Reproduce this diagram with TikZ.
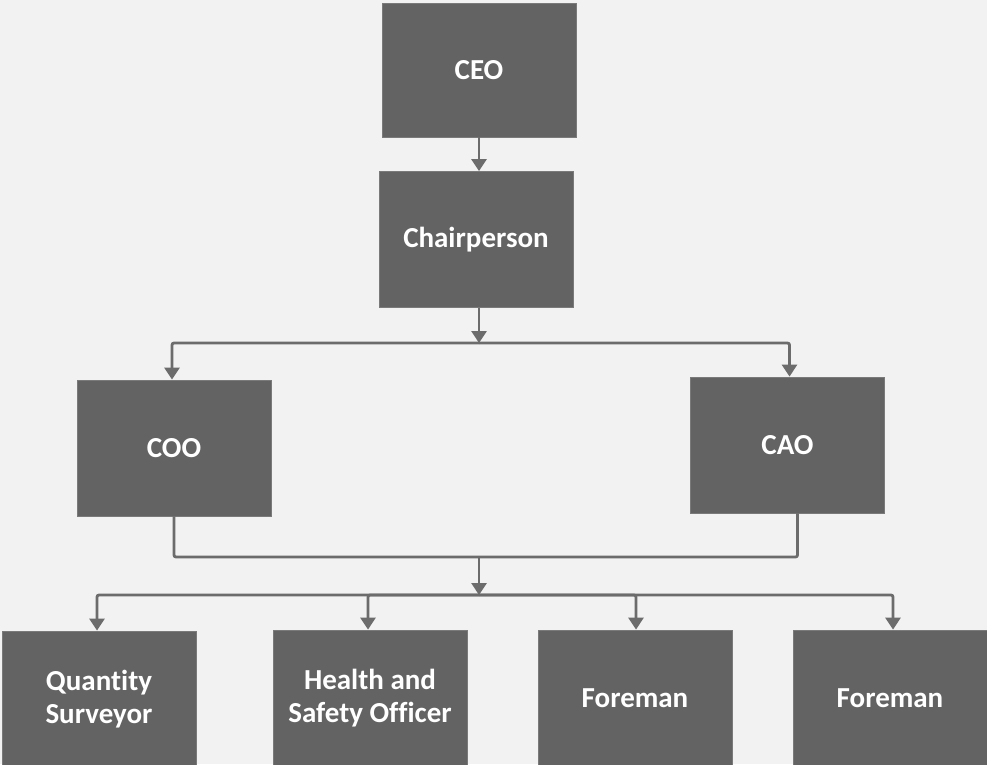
\documentclass[tikz,border=0pt]{standalone}
\usepackage{fontspec}
\setmainfont{Carlito}[Ligatures=NoCommon]
\usetikzlibrary{arrows.meta}
\definecolor{boxgray}{RGB}{99,99,99}
\definecolor{linegray}{RGB}{108,108,108}
\definecolor{bggray}{RGB}{242,242,242}

\begin{document}
\begin{tikzpicture}[x=1pt,y=-1pt,
    post/.style={fill=boxgray, draw=boxgray!85!white, line width=0.8pt,
      minimum width=194pt, minimum height=136pt, inner sep=0pt,
      text=white, align=center,
      font=\bfseries\fontsize{29}{33}\selectfont},
    link/.style={draw=linegray, line width=2.8pt, rounded corners=2pt},
    tip/.style={link, -{Triangle[width=15pt,length=12pt]}}]

  % Fundo e moldura
  \fill[bggray] (0,0) rectangle (987,764);
  \useasboundingbox (0,0) rectangle (987,764);
  \clip (0,0) rectangle (987,764);

  % Caixas
  \node[post, minimum height=134pt] (ceo)   at (479,70)    {CEO};
  \node[post] (chair) at (476,239.5) {Chairperson};
  \node[post] (coo)   at (174,448)   {COO};
  \node[post] (cao)   at (787.5,445) {CAO};

  \node[post] (qs)    at (99,699)    {Quantity\\Surveyor};
  \node[post] (hso)   at (370,698)   {Health and\\Safety Officer};
  \node[post] (fm1)   at (635,698)   {Foreman};
  \node[post] (fm2)   at (890,698)   {Foreman};

  % Pontos de junção
  \coordinate (split)  at (479,343);
  \coordinate (merge)  at (479,557);
  \coordinate (bus)    at (479,595);

  % Ligações
  \draw[tip] (ceo.south) -- (ceo.south |- chair.north);
  \draw[tip] (chair.south -| split) -- (split);
  \draw[tip] (split) -| ([xshift=-2pt]coo.north);
  \draw[tip] (split) -| ([xshift=2pt]cao.north);

  \draw[link] (coo.south) |- (merge) -| ([xshift=10pt]cao.south);
  \draw[tip] (merge) -- (bus);

  \draw[tip] (bus) -| ([xshift=-2pt]qs.north);
  \draw[tip] (bus) -| ([xshift=-2pt]hso.north);
  \draw[tip] (bus) -| ([xshift=1pt]fm1.north);
  \draw[tip] (bus) -| ([xshift=3pt]fm2.north);

\end{tikzpicture}
\end{document}
